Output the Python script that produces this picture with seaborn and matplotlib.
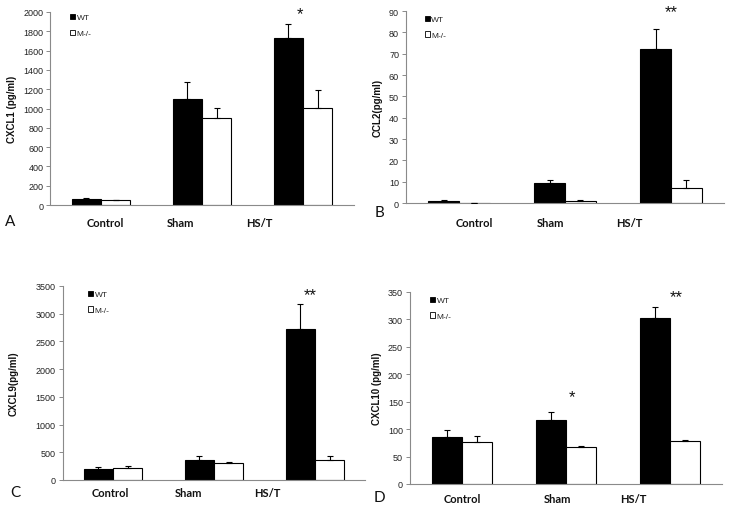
import numpy as np
import pandas as pd
import matplotlib
matplotlib.use("Agg")
import matplotlib.pyplot as plt
import matplotlib.transforms as mtransforms
from matplotlib.patches import Patch
import seaborn as sns

# ---------------- data ----------------
groups = ["Control", "Sham", "HS/T"]
genotypes = ["WT", "M-/-"]

cxcl1_wt = [60, 1100, 1730]
cxcl1_ko = [50, 900, 1010]
cxcl1_wt_err = [12, 175, 150]
cxcl1_ko_err = [6, 110, 180]

ccl2_wt = [1.0, 9.5, 72.0]
ccl2_ko = [0.1, 1.0, 7.0]
ccl2_wt_err = [0.6, 1.3, 9.5]
ccl2_ko_err = [0.0, 0.6, 3.8]

cxcl9_wt = [200, 360, 2720]
cxcl9_ko = [215, 300, 365]
cxcl9_wt_err = [40, 65, 460]
cxcl9_ko_err = [35, 30, 60]

cxcl10_wt = [85, 117, 302]
cxcl10_ko = [77, 67, 78]
cxcl10_wt_err = [13, 14, 21]
cxcl10_ko_err = [11, 2, 2]

ylabels = ["CXCL1 (pg/ml)", "CCL2(pg/ml)", "CXCL9(pg/ml)", "CXCL10 (pg/ml)"]
panel_letters = ["A", "B", "C", "D"]
yticks_list = [np.arange(0, 2001, 200), np.arange(0, 91, 10),
               np.arange(0, 3501, 500), np.arange(0, 351, 50)]

# significance marks: (panel, text, x, y)
sig_marks = [
    (0, "*", 1.97, 1980),
    (1, "**", 2.0, 89.5),
    (2, "**", 1.95, 3350),
    (3, "*", 1.06, 160),
    (3, "**", 2.06, 341),
]

panels = [
    (cxcl1_wt, cxcl1_ko, cxcl1_wt_err, cxcl1_ko_err),
    (ccl2_wt, ccl2_ko, ccl2_wt_err, ccl2_ko_err),
    (cxcl9_wt, cxcl9_ko, cxcl9_wt_err, cxcl9_ko_err),
    (cxcl10_wt, cxcl10_ko, cxcl10_wt_err, cxcl10_ko_err),
]

# ---------------- layout ----------------
W, H = 729, 510
# axes boxes in pixels: left, right, top, bottom
boxes = [(50.5, 353.5, 13, 206),
         (406, 724, 12, 204),
         (62.5, 365.5, 287, 481),
         (410, 722, 293, 485)]
cat_label_x = [[0.04, 0.79, 1.57], [0.14, 0.86, 1.61],
               [-0.03, 0.75, 1.53], [0.0, 0.92, 1.65]]
cat_label_y = [-0.093, -0.104, -0.067, -0.073]
ylabel_x = [-0.11, -0.075, -0.144, -0.09]
legend_anchor = [(0.06, 1.0), (0.055, 0.985), (0.08, 0.985), (0.06, 0.985)]
letter_pos = [(10, 222), (379, 213), (15, 493), (379, 498)]

sns.set_theme(style="white")
plt.rcParams["font.family"] = ["Liberation Sans", "DejaVu Sans"]

fig = plt.figure(figsize=(W / 100, H / 100), dpi=100)
palette = {"WT": "black", "M-/-": "white"}
gray = "#8a8a8a"

for i, (wt, ko, wte, koe) in enumerate(panels):
    l, r, t, b = boxes[i]
    ax = fig.add_axes([l / W, 1 - b / H, (r - l) / W, (b - t) / H])
    df = pd.DataFrame({
        "group": groups * 2,
        "genotype": ["WT"] * 3 + ["M-/-"] * 3,
        "value": list(wt) + list(ko),
        "err": list(wte) + list(koe),
    })
    sns.barplot(data=df, x="group", y="value", hue="genotype",
                order=groups, hue_order=genotypes, palette=palette,
                edgecolor="black", linewidth=0.8, width=0.58,
                errorbar=None, legend=False, ax=ax, saturation=1)
    # error bars (upper only) at the centres of seaborn's bars
    bars = sorted([p for p in ax.patches], key=lambda p: p.get_x())
    order = []
    for g in groups:
        for h in genotypes:
            order.append(df[(df.group == g) & (df.genotype == h)].iloc[0])
    xs = [p.get_x() + p.get_width() / 2 for p in bars]
    ys = [row.value for row in order]
    es = [row.err for row in order]
    ax.errorbar(xs, ys, yerr=[np.zeros(len(es)), es], fmt="none",
                ecolor="black", elinewidth=0.8, capsize=2.5, capthick=0.8,
                zorder=5)

    yt = yticks_list[i]
    ax.set_xlim(-0.5, 2.5)
    ax.set_ylim(0, yt[-1])
    ax.set_yticks(yt)
    ax.set_yticklabels([str(v) for v in yt], fontsize=6.5, color="#222222")
    ax.set_xticks([])
    ax.set_xlabel("")
    ax.set_ylabel(ylabels[i], fontsize=7, fontweight="bold", color="#111111")
    ax.yaxis.set_label_coords(ylabel_x[i], 0.5)
    ax.tick_params(axis="y", direction="out", length=3, width=0.7,
                   color=gray, pad=2, left=True)
    for s in ["top", "right"]:
        ax.spines[s].set_visible(False)
    for s in ["left", "bottom"]:
        ax.spines[s].set_color(gray)
        ax.spines[s].set_linewidth(0.8)

    trans = mtransforms.blended_transform_factory(ax.transData, ax.transAxes)
    for g, xl in zip(groups, cat_label_x[i]):
        ax.text(xl, cat_label_y[i], g, transform=trans, ha="center",
                va="center", fontsize=8, fontweight="bold",
                family=["Lato", "DejaVu Sans"], color="#111111")

    handles = [Patch(facecolor=palette[h], edgecolor="black", linewidth=0.6,
                     label=h) for h in genotypes]
    ax.legend(handles=handles, loc="upper left",
              bbox_to_anchor=legend_anchor[i], frameon=False, fontsize=6,
              handlelength=0.6, handleheight=0.6, handletextpad=0.15,
              labelspacing=1.0, borderpad=0.2, borderaxespad=0)

    for (pi, txt, xx, yy) in sig_marks:
        if pi == i:
            ax.text(xx, yy, txt, ha="center", va="center", fontsize=12,
                    color="#111111", clip_on=False)

    lx, ly = letter_pos[i]
    fig.text(lx / W, 1 - ly / H, panel_letters[i], ha="center", va="center",
             fontsize=11, family=["Lato", "DejaVu Sans"], color="#111111")

fig.savefig("out.png", dpi=100)
